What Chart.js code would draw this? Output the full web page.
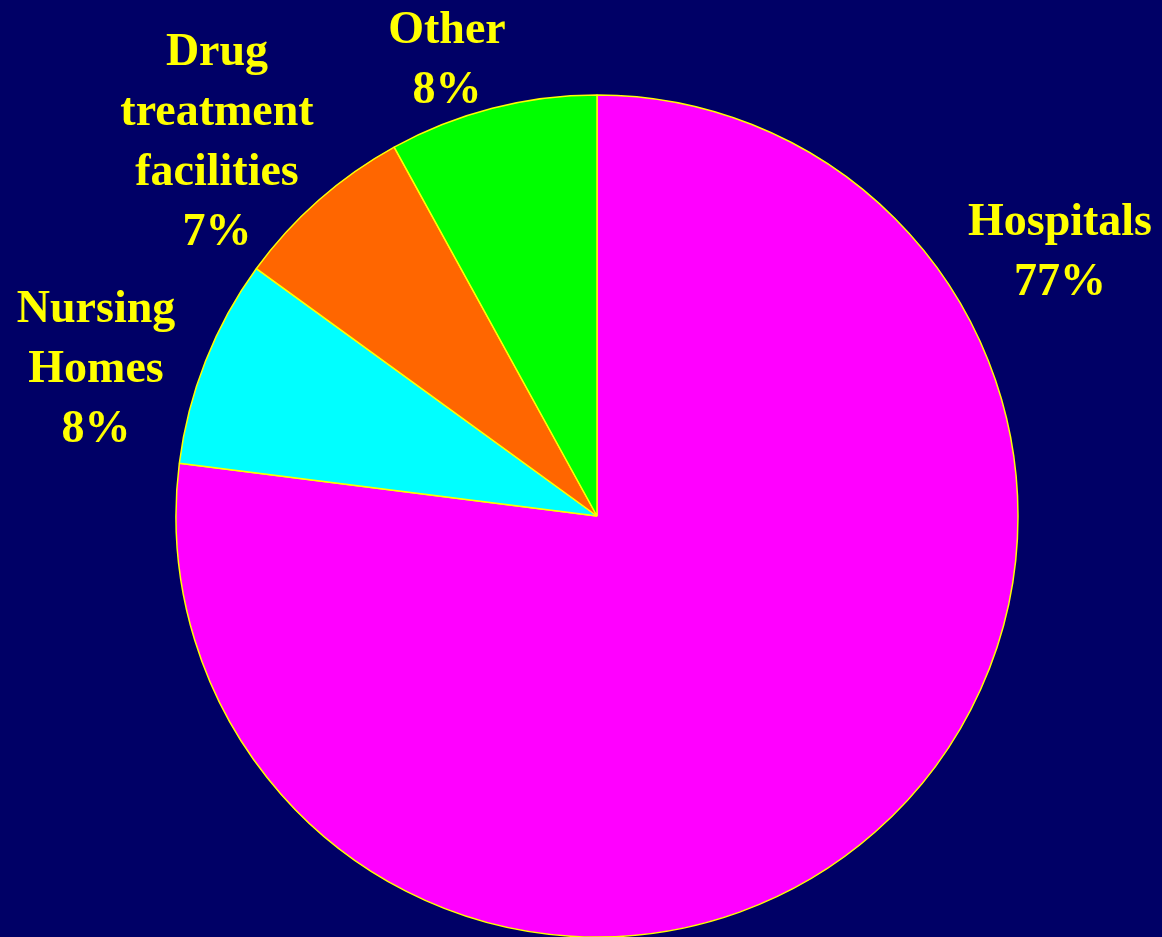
<!DOCTYPE html>
<html>
<head>
<meta charset="utf-8">
<script src="https://cdn.jsdelivr.net/npm/chart.js@4"></script>
<style>
  html, body { margin: 0; padding: 0; background: #000066; }
  #wrap { width: 1162px; height: 937px; }
</style>
</head>
<body>
<div id="wrap"><canvas id="pie" width="1162" height="937"></canvas></div>
<script>
// Categories (split into the lines they are printed on) and shares in percent
const categories = [['Hospitals'], ['Nursing', 'Homes'], ['Drug', 'treatment', 'facilities'], ['Other']];
const shares = [77, 8, 7, 8];
const sliceColors = ['#ff00ff', '#00ffff', '#ff6600', '#00ff00'];

// Where each label block sits, relative to the pie centre (first baseline)
const labelSpots = [
  { dx: 463, dy: -281 },
  { dx: -501, dy: -194 },
  { dx: -380, dy: -451 },
  { dx: -150, dy: -473 }
];

const outsideLabels = {
  id: 'outsideLabels',
  afterDatasetsDraw(chart) {
    const ctx = chart.ctx;
    const arcs = chart.getDatasetMeta(0).data;
    ctx.save();
    ctx.fillStyle = '#ffff00';
    ctx.font = 'bold 46px "Liberation Serif", "Times New Roman", serif';
    ctx.textAlign = 'center';
    ctx.textBaseline = 'alphabetic';
    arcs.forEach((arc, i) => {
      const spot = labelSpots[i];
      const lines = categories[i].concat([shares[i] + '%']);
      lines.forEach((line, j) => {
        ctx.fillText(line, arc.x + spot.dx, arc.y + spot.dy + j * 60);
      });
    });
    ctx.restore();
  }
};

new Chart(document.getElementById('pie'), {
  type: 'pie',
  data: {
    labels: categories,
    datasets: [{
      data: shares,
      backgroundColor: sliceColors,
      borderColor: '#ffff00',
      borderWidth: 1.5,
      hoverOffset: 0
    }]
  },
  options: {
    responsive: false,
    animation: false,
    devicePixelRatio: 1,
    radius: 421,
    layout: { padding: { top: 95, bottom: 0, left: 176, right: 144 } },
    plugins: {
      legend: { display: false },
      tooltip: { enabled: false }
    }
  },
  plugins: [outsideLabels]
});
</script>
</body>
</html>
